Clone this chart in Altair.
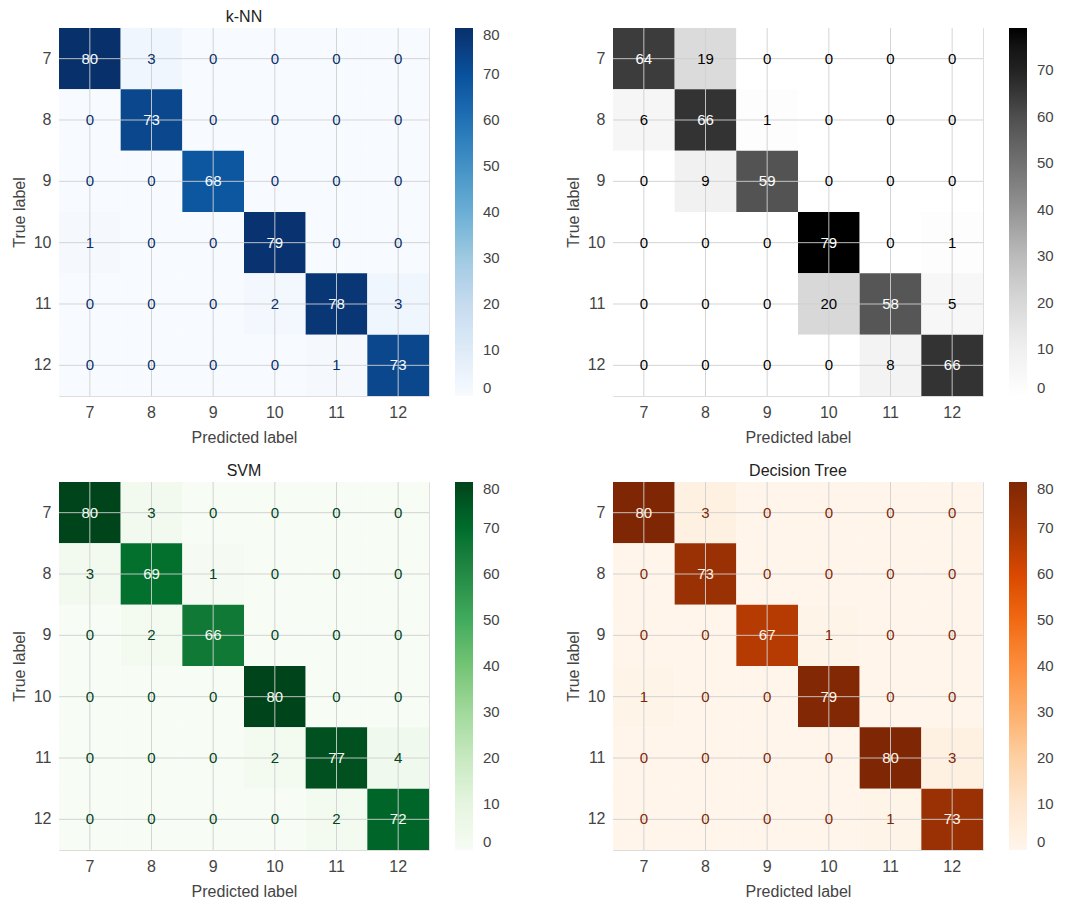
import altair as alt
import pandas as pd

labels = ["7", "8", "9", "10", "11", "12"]

knn = [
    [80, 3, 0, 0, 0, 0],
    [0, 73, 0, 0, 0, 0],
    [0, 0, 68, 0, 0, 0],
    [1, 0, 0, 79, 0, 0],
    [0, 0, 0, 2, 78, 3],
    [0, 0, 0, 0, 1, 73],
]
grey_model = [
    [64, 19, 0, 0, 0, 0],
    [6, 66, 1, 0, 0, 0],
    [0, 9, 59, 0, 0, 0],
    [0, 0, 0, 79, 0, 1],
    [0, 0, 0, 20, 58, 5],
    [0, 0, 0, 0, 8, 66],
]
svm = [
    [80, 3, 0, 0, 0, 0],
    [3, 69, 1, 0, 0, 0],
    [0, 2, 66, 0, 0, 0],
    [0, 0, 0, 80, 0, 0],
    [0, 0, 0, 2, 77, 4],
    [0, 0, 0, 0, 2, 72],
]
dtree = [
    [80, 3, 0, 0, 0, 0],
    [0, 73, 0, 0, 0, 0],
    [0, 0, 67, 1, 0, 0],
    [1, 0, 0, 79, 0, 0],
    [0, 0, 0, 0, 80, 3],
    [0, 0, 0, 0, 1, 73],
]

blues = ["#f7fbff", "#deebf7", "#c6dbef", "#9ecae1", "#6baed6", "#4292c6", "#2171b5", "#08519c", "#08306b"]
greys = ["#ffffff", "#f0f0f0", "#d9d9d9", "#bdbdbd", "#969696", "#737373", "#525252", "#252525", "#000000"]
greens = ["#f7fcf5", "#e5f5e0", "#c7e9c0", "#a1d99b", "#74c476", "#41ab5d", "#238b45", "#006d2c", "#00441b"]
oranges = ["#fff5eb", "#fee6ce", "#fdd0a2", "#fdae6b", "#fd8d3c", "#f16913", "#d94801", "#a63603", "#7f2704"]

FONT = "Liberation Sans"
W = 370
H = 368


def panel(mat, title, ramp):
    rows = []
    for i, t in enumerate(labels):
        for j, p in enumerate(labels):
            rows.append({"true": t, "pred": p, "count": mat[i][j]})
    df = pd.DataFrame(rows)
    vmax = max(max(r) for r in mat)
    thresh = vmax / 2.0
    stops = [vmax * k / (len(ramp) - 1) for k in range(len(ramp))]
    ticks = [v for v in range(0, 81, 10) if v <= vmax]

    xenc = alt.X("pred:N", sort=labels, title="Predicted label",
                 axis=alt.Axis(labelAngle=0, ticks=False, domain=False, grid=False,
                               labelFontSize=16, labelColor="#444", labelPadding=8,
                               titleFontSize=16, titleColor="#444", titleFontWeight="normal",
                               titlePadding=9, labelFont=FONT, titleFont=FONT))
    yenc = alt.Y("true:N", sort=labels, title="True label",
                 axis=alt.Axis(ticks=False, domain=False, grid=False,
                               labelFontSize=16, labelColor="#444", labelPadding=8,
                               titleFontSize=16, titleColor="#444", titleFontWeight="normal",
                               titlePadding=6, labelFont=FONT, titleFont=FONT))

    base = alt.Chart(df).encode(x=xenc, y=yenc)
    rect = base.mark_rect().encode(
        color=alt.Color("count:Q",
                        scale=alt.Scale(domain=stops, range=ramp, clamp=True),
                        title=None,
                        legend=alt.Legend(orient="right", direction="vertical",
                                          gradientLength=H, gradientThickness=18,
                                          gradientStrokeWidth=0, offset=26,
                                          values=ticks, labelFontSize=15,
                                          labelColor="#444", labelFont=FONT,
                                          labelOffset=10))
    )
    gdf_x = pd.DataFrame({"pred": labels})
    gdf_y = pd.DataFrame({"true": labels})
    vrules = alt.Chart(gdf_x).mark_rule(color="#cfcfcf", strokeWidth=1, opacity=0.9).encode(
        x=alt.X("pred:N", sort=labels))
    hrules = alt.Chart(gdf_y).mark_rule(color="#cfcfcf", strokeWidth=1, opacity=0.9).encode(
        y=alt.Y("true:N", sort=labels))
    text = base.mark_text(fontSize=15, font=FONT).encode(
        text="count:Q",
        color=alt.condition(alt.datum["count"] > thresh, alt.value(ramp[0]), alt.value(ramp[-1])),
    )
    return alt.layer(rect, vrules, hrules, text).properties(
        width=W, height=H,
        title=alt.TitleParams(title, fontSize=16, font=FONT, fontWeight="normal",
                              color="#222", offset=3),
    ).resolve_scale(color="independent")


p1 = panel(knn, "k-NN", blues)
p2 = panel(grey_model, " ", greys)
p3 = panel(svm, "SVM", greens)
p4 = panel(dtree, "Decision Tree", oranges)

top = alt.hconcat(p1, p2, spacing=63).resolve_scale(color="independent")
bottom = alt.hconcat(p3, p4, spacing=63).resolve_scale(color="independent")

chart = alt.vconcat(top, bottom, spacing=16).resolve_scale(color="independent").properties(
    padding={"left": 2, "top": 0, "right": 2, "bottom": 0}
).configure_view(stroke="#e6e6e6", strokeWidth=1).configure(background="white")

chart.save("out.html", embed_options={"renderer": "svg", "actions": False})
